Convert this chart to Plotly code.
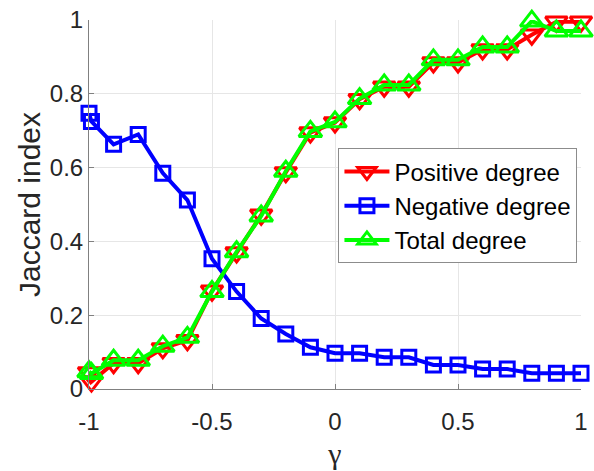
import plotly.graph_objects as go

gamma = [-1, -0.99, -0.9, -0.8, -0.7, -0.6, -0.5, -0.4, -0.3, -0.2, -0.1,
         0, 0.1, 0.2, 0.3, 0.4, 0.5, 0.6, 0.7, 0.8, 0.9, 1]
positive = [0.045, 0.02, 0.07, 0.07, 0.11, 0.132, 0.266, 0.37, 0.472, 0.587, 0.695,
            0.722, 0.785, 0.819, 0.819, 0.885, 0.885, 0.92, 0.92, 0.96, 0.995, 0.995]
negative = [0.747, 0.725, 0.663, 0.69, 0.585, 0.512, 0.353, 0.264, 0.191, 0.149, 0.113,
            0.097, 0.097, 0.086, 0.086, 0.065, 0.065, 0.054, 0.054, 0.043, 0.043, 0.043]
total = [0.047, 0.042, 0.078, 0.078, 0.116, 0.14, 0.264, 0.372, 0.469, 0.59, 0.698,
         0.724, 0.787, 0.824, 0.824, 0.892, 0.892, 0.927, 0.927, 0.997, 0.97, 0.97]

series_names = ["Positive degree", "Negative degree", "Total degree"]
x_ticks = [-1, -0.5, 0, 0.5, 1]
x_tick_labels = ["-1", "-0.5", "0", "0.5", "1"]
y_ticks = [0, 0.2, 0.4, 0.6, 0.8, 1]
y_tick_labels = ["0", "0.2", "0.4", "0.6", "0.8", "1"]

txt = "#262626"
fig = go.Figure()
styles = [
    (positive, "#ff0000", "triangle-down-open", 19),
    (negative, "#0000ff", "square-open", 14),
    (total, "#00ff00", "triangle-up-open", 20),
]
for name, (vals, col, sym, sz) in zip(series_names, styles):
    fig.add_trace(go.Scatter(
        x=gamma, y=vals, name=name, mode="lines+markers",
        line=dict(color=col, width=4),
        marker=dict(symbol=sym, size=sz, color=col, line=dict(width=3, color=col)),
        cliponaxis=False,
    ))

fig.update_layout(
    width=594, height=471,
    margin=dict(l=89, r=6, t=18, b=82),
    paper_bgcolor="white", plot_bgcolor="white",
    font=dict(family="Liberation Sans, Arial, sans-serif", color=txt, size=24),
    showlegend=True,
    legend=dict(
        x=0.507, y=0.652, xanchor="left", yanchor="top",
        bgcolor="white", bordercolor="#8c8c8c", borderwidth=1,
        font=dict(size=24, color="black"),
        tracegroupgap=0, itemwidth=45,
    ),
)
fig.update_xaxes(
    range=[-1, 1], tickmode="array", tickvals=x_ticks, ticktext=x_tick_labels,
    showgrid=True, gridcolor="#e6e6e6", gridwidth=1,
    showline=True, linecolor="#808080", linewidth=1,
    ticks="inside", ticklen=5, tickcolor="#808080",
    zeroline=False, mirror=False, ticklabeloverflow="allow",
    tickfont=dict(size=24, color=txt), ticklabelstandoff=11,
    title=dict(text="γ", font=dict(size=30, color=txt, family="Liberation Serif, serif"), standoff=9),
)
fig.update_yaxes(
    range=[0, 1], tickmode="array", tickvals=y_ticks, ticktext=y_tick_labels,
    showgrid=True, gridcolor="#e6e6e6", gridwidth=1,
    showline=True, linecolor="#808080", linewidth=1,
    ticks="inside", ticklen=5, tickcolor="#808080",
    zeroline=False, mirror=False, ticklabeloverflow="allow",
    tickfont=dict(size=24, color=txt), ticklabelstandoff=0,
    title=dict(text="Jaccard index", font=dict(size=30, color=txt), standoff=0),
)
fig.write_html("out.html")
